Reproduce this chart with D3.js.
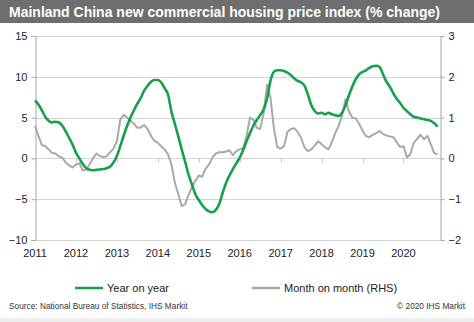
<!DOCTYPE html>
<html>
<head>
<meta charset="utf-8">
<script src="https://cdn.jsdelivr.net/npm/d3@7"></script>
<style>
	body { margin: 0; background: #fff; }
	text { font-family: "Liberation Sans", Arial, sans-serif; }
</style>
</head>
<body>
<div id="chart"></div>
<script>
	// monthly, Jan 2011 - Nov 2020
	var yoy = [
		7.1, 6.6, 5.9, 5.1, 4.6, 4.4, 4.5, 4.4, 4.0, 3.3, 2.5, 1.7,
		0.7, 0.0, -0.7, -1.2, -1.4, -1.45, -1.4, -1.35, -1.3, -1.2, -1.0, -0.5,
		0.3, 1.5, 2.8, 4.0, 5.0, 5.9, 6.7, 7.4, 8.3, 8.9, 9.4, 9.6,
		9.6, 9.3, 8.6, 7.8, 5.7, 4.2, 2.7, 1.1, -0.4, -2.0, -3.2, -4.4,
		-5.1, -5.7, -6.2, -6.5, -6.6, -6.3, -5.6, -4.2, -3.0, -2.1, -1.3, -0.6,
		0.1, 1.0, 2.1, 3.1, 4.0, 4.7, 5.3, 6.0, 7.3, 9.5, 10.6, 10.8,
		10.8, 10.7, 10.5, 10.2, 9.8, 9.5, 9.3, 8.9, 7.8, 6.5, 5.8, 5.5,
		5.6, 5.4, 5.6, 5.4, 5.3, 5.2, 5.6, 6.5, 7.7, 8.8, 9.7, 10.3,
		10.6, 10.8, 11.1, 11.3, 11.35, 11.2, 10.3, 9.4, 8.8, 8.0, 7.3, 6.8,
		6.2, 5.8, 5.4, 5.1, 5.0, 4.9, 4.8, 4.7, 4.6, 4.3, 3.9
	];
	var mom = [
		0.8, 0.55, 0.33, 0.3, 0.22, 0.13, 0.12, 0.05, 0.02, -0.1, -0.17, -0.22,
		-0.15, -0.12, -0.3, -0.27, -0.15, 0.0, 0.12, 0.06, 0.03, 0.05, 0.15, 0.24,
		0.42, 0.95, 1.07, 1.0, 0.92, 0.85, 0.75, 0.76, 0.82, 0.72, 0.55, 0.43,
		0.38, 0.3, 0.22, 0.1, -0.15, -0.6, -0.88, -1.17, -1.12, -0.9, -0.7, -0.55,
		-0.42, -0.45, -0.25, -0.15, 0.02, 0.12, 0.15, 0.15, 0.17, 0.2, 0.08, 0.18,
		0.22, 0.25, 0.55, 1.0, 0.95, 0.75, 0.72, 1.1, 1.8, 1.5, 0.75, 0.28,
		0.24, 0.3, 0.65, 0.72, 0.74, 0.65, 0.5, 0.27, 0.18, 0.22, 0.32, 0.42,
		0.35, 0.27, 0.22, 0.4, 0.62, 0.8, 1.05, 1.45, 1.15, 1.0, 0.98, 0.85,
		0.68, 0.55, 0.52, 0.58, 0.62, 0.67, 0.6, 0.56, 0.54, 0.52, 0.4, 0.28,
		0.3, 0.02, 0.1, 0.38, 0.48, 0.58, 0.47, 0.55, 0.35, 0.13, 0.1
	];
	var years = [2011, 2012, 2013, 2014, 2015, 2016, 2017, 2018, 2019, 2020];
	var leftTicks = [-10, -5, 0, 5, 10, 15];
	var rightTicks = [-2, -1, 0, 1, 2, 3];

	var WIDTH = 474, HEIGHT = 322;
	var MARGINS = { top: 36, bottom: 240, left: 35, right: 440 };

	var svg = d3.select('#chart').append('svg')
			.attr('width', WIDTH).attr('height', HEIGHT);

	// title bar
	svg.append('rect').attr('x', 0).attr('y', 0).attr('width', WIDTH)
			.attr('height', 23).attr('fill', '#6e6e6e');
	svg.append('text').attr('x', 9).attr('y', 16.5).attr('fill', '#fff')
			.style('font-size', '14px').style('font-weight', 'bold')
			.text('Mainland China new commercial housing price index (% change)');

	var xScale = d3.scaleLinear().domain([ 0, 118.7 ])
			.range([ MARGINS.left, MARGINS.right ]);
	var yLeft = d3.scaleLinear().domain([ -10, 15 ])
			.range([ MARGINS.bottom, MARGINS.top ]);
	var yRight = d3.scaleLinear().domain([ -2, 3 ])
			.range([ MARGINS.bottom, MARGINS.top ]);

	// gridlines
	svg.append('g').selectAll('line').data(leftTicks).enter().append('line')
			.attr('x1', MARGINS.left).attr('x2', MARGINS.right)
			.attr('y1', function(d) { return Math.round(yLeft(d)) + 0.5; })
			.attr('y2', function(d) { return Math.round(yLeft(d)) + 0.5; })
			.attr('stroke', '#d4d4d4').attr('stroke-width', 1);

	var leftAxis = d3.axisLeft(yLeft).tickValues(leftTicks).tickSize(4).tickPadding(4)
			.tickFormat(d3.format('d'));
	var gL = svg.append('g').attr('transform', 'translate(' + (MARGINS.left + 0.5) + ',0)')
			.call(leftAxis);
	var rightAxis = d3.axisRight(yRight).tickValues(rightTicks).tickSize(4).tickPadding(4)
			.tickFormat(d3.format('d'));
	var gR = svg.append('g').attr('transform', 'translate(' + (MARGINS.right + 0.5) + ',0)')
			.call(rightAxis);
	[gL, gR].forEach(function(g) {
		g.select('.domain').attr('stroke', '#a6a6a6');
		g.selectAll('.tick line').attr('stroke', '#a6a6a6');
		g.selectAll('.tick text').attr('fill', '#222').style('font-size', '11px')
				.style('font-family', '"Liberation Sans", Arial, sans-serif');
	});

	// year ticks on the zero line, labels at bottom
	var yearG = svg.append('g');
	yearG.selectAll('line').data(years).enter().append('line')
			.attr('x1', function(d) { return Math.round(xScale((d - 2011) * 12)) + 0.5; })
			.attr('x2', function(d) { return Math.round(xScale((d - 2011) * 12)) + 0.5; })
			.attr('y1', yLeft(0)).attr('y2', yLeft(0) + 4)
			.attr('stroke', '#c8c8c8');
	yearG.selectAll('text').data(years).enter().append('text')
			.attr('x', function(d) { return xScale((d - 2011) * 12); })
			.attr('y', 257).attr('text-anchor', 'middle')
			.style('font-size', '11px').attr('fill', '#222')
			.text(function(d) { return d; });

	var lineL = d3.line().curve(d3.curveMonotoneX)
			.x(function(d, i) { return xScale(i); })
			.y(function(d) { return yLeft(d); });
	var lineR = d3.line()
			.x(function(d, i) { return xScale(i); })
			.y(function(d) { return yRight(d); });

	svg.append('path').attr('d', lineR(mom)).attr('fill', 'none')
			.attr('stroke', '#a9a9a9').attr('stroke-width', 2)
			.attr('stroke-linejoin', 'round');
	svg.append('path').attr('d', lineL(yoy)).attr('fill', 'none')
			.attr('stroke', '#16a04a').attr('stroke-width', 2.6)
			.attr('stroke-linejoin', 'round');

	// legend
	var legend = [
		{ label: 'Year on year', color: '#16a04a', x: 75 },
		{ label: 'Month on month (RHS)', color: '#a9a9a9', x: 252 }
	];
	legend.forEach(function(d) {
		svg.append('line').attr('x1', d.x).attr('x2', d.x + 28)
				.attr('y1', 288).attr('y2', 288)
				.attr('stroke', d.color).attr('stroke-width', 2.5);
		svg.append('text').attr('x', d.x + 32).attr('y', 292)
				.style('font-size', '11px').attr('fill', '#222').text(d.label);
	});

	// footer
	svg.append('text').attr('x', 9).attr('y', 309).style('font-size', '8.3px')
			.attr('fill', '#333').text('Source: National Bureau of Statistics, IHS Markit');
	svg.append('text').attr('x', 465).attr('y', 309).attr('text-anchor', 'end')
			.style('font-size', '8.3px').attr('fill', '#333').text('\u00a9 2020 IHS Markit');
	svg.append('rect').attr('x', 0).attr('y', 318).attr('width', WIDTH)
			.attr('height', 4).attr('fill', '#eeeeee');
</script>
</body>
</html>
